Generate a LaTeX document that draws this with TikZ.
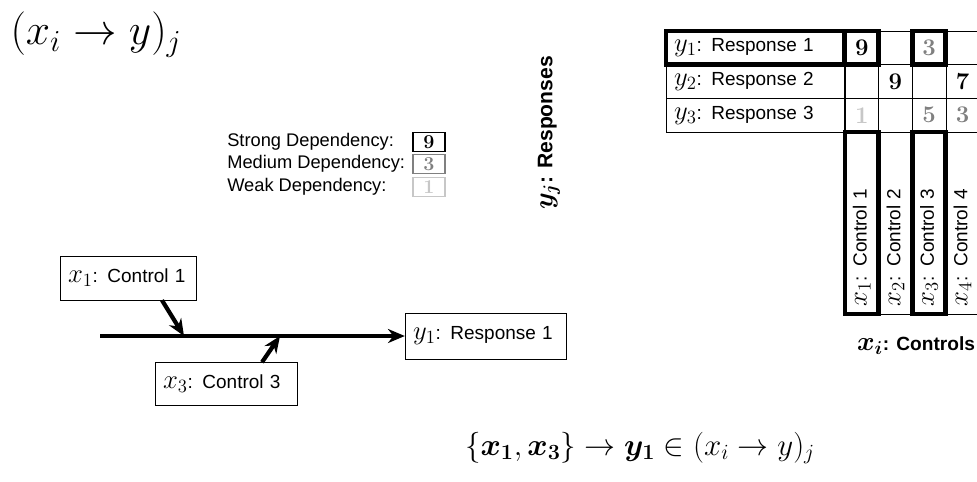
\RequirePackage{fix-cm}
\documentclass[tikz,border=0pt]{standalone}
\usepackage{amsmath}
\usepackage{fontspec}
\newfontfamily\arial{Liberation Sans}
\usepackage{tikz}
\usetikzlibrary{arrows.meta}
\definecolor{medgray}{gray}{0.5}
\definecolor{weakgray}{gray}{0.78}
\newcommand{\mv}[1]{{\fontsize{19}{20}\selectfont$#1$}}
\tikzset{>=latex}
\tikzstyle{lab} = [draw, rectangle, inner sep = 0, align = left, font = \arial\fontsize{13.5}{16}\selectfont]
\tikzstyle{rowlab} = [lab, minimum width = 4.45cm, minimum height = .842cm, text width = 4.05cm]
\tikzstyle{collab} = [lab, rotate = 90, minimum width = 4.55cm, minimum height = .84cm, text width = 4.15cm]
\tikzstyle{hl} = [line width = 3.5pt]
\tikzstyle{cell} = [draw, rectangle, minimum width = .84cm, minimum height = .842cm, inner sep = 0, font = \fontsize{17}{20}\selectfont\bfseries]
\tikzstyle{key} = [draw, rectangle, line width = .8pt, minimum width = .8cm, minimum height = .48cm, inner sep = 0, font = \fontsize{14}{16}\selectfont\bfseries]
\tikzstyle{keytext} = [draw = none, anchor = west, inner sep = 0, font = \arial\fontsize{13}{15}\selectfont]
\tikzstyle{flow} = [line width = 3pt, -{Stealth[length = 12pt, width = 10pt]}]

\begin{document}
\begin{tikzpicture}
\useasboundingbox (0, 0) rectangle (24.425, -12.025);
\node [draw = none, inner sep = 1, font = \fontsize{31}{34}\selectfont] (T) at (2.4, -.86) {$(x_i \rightarrow y)_j$};
% responses x controls
\node [rowlab, hl] (Y1) at (18.875, -1.196) {\mv{y_1}: Response 1};
\node [rowlab] (Y2) at (18.875, -2.0375) {\mv{y_2}: Response 2};
\node [rowlab] (Y3) at (18.875, -2.879) {\mv{y_3}: Response 3};
\node [cell, hl] (c11) at (21.545, -1.196) {9};
\node [cell] (c12) at (22.385, -1.196) {};
\node [cell, hl, text = medgray] (c13) at (23.225, -1.196) {3};
\node [cell] (c14) at (24.065, -1.196) {};
\node [cell] (c21) at (21.545, -2.0375) {};
\node [cell] (c22) at (22.385, -2.0375) {9};
\node [cell] (c23) at (23.225, -2.0375) {};
\node [cell] (c24) at (24.065, -2.0375) {7};
\node [cell, text = weakgray] (c31) at (21.545, -2.879) {1};
\node [cell] (c32) at (22.385, -2.879) {};
\node [cell, text = medgray] (c33) at (23.225, -2.879) {5};
\node [cell, text = medgray] (c34) at (24.065, -2.879) {3};
\node [collab] (X2) at (22.385, -5.575) {\mv{x_2}: Control 2};
\node [collab] (X4) at (24.065, -5.575) {\mv{x_4}: Control 4};
\node [collab, hl] (X1) at (21.545, -5.575) {\mv{x_1}: Control 1};
\node [collab, hl] (X3) at (23.225, -5.575) {\mv{x_3}: Control 3};
\node [draw = none, font = \arial\bfseries\fontsize{15}{18}\selectfont, rotate = 90] (YJ) at (13.725, -3.325) {\mv{\boldsymbol{y_j}}: Responses};
\node [draw = none, font = \arial\bfseries\fontsize{13.6}{16}\selectfont] (XI) at (22.9, -8.65) {\mv{\boldsymbol{x_i}}: Controls};
% legend
\node [keytext] (Ls) at (5.675, -3.55) {Strong Dependency:};
\node [keytext] (Lm) at (5.675, -4.1) {Medium Dependency:};
\node [keytext] (Lw) at (5.675, -4.675) {Weak Dependency:};
\node [key] (K9) at (10.725, -3.55) {9};
\node [key, draw = medgray, text = medgray] (K3) at (10.725, -4.1) {3};
\node [key, draw = weakgray, text = weakgray] (K1) at (10.725, -4.675) {1};
% fishbone
\node [lab, minimum width = 3.4cm, minimum height = 1.1cm, text width = 3.0cm] (C1) at (3.2, -6.95) {\mv{x_1}: Control 1};
\node [lab, minimum width = 3.55cm, minimum height = 1.075cm, text width = 3.15cm] (C3) at (5.65, -9.6) {\mv{x_3}: Control 3};
\node [lab, minimum width = 4.025cm, minimum height = 1.15cm, text width = 3.625cm] (R1) at (12.14, -8.4) {\mv{y_1}: Response 1};
\coordinate (S) at (2.5, -8.4);
\coordinate (J1) at (4.6, -8.4);
\coordinate (J3) at (7.0, -8.4);
\draw [flow] (S) -- (R1.west);
\draw [flow] ([xshift = .85cm]C1.south) -- (J1);
\draw [flow] ([xshift = .9cm]C3.north) -- (J3);
\node [draw = none, font = \fontsize{22}{26}\selectfont] (F) at (16, -11.2) {$\{\boldsymbol{x_1}, \boldsymbol{x_3}\} \rightarrow \boldsymbol{y_1} \in (x_i \rightarrow y)_j$};
\end{tikzpicture}
\end{document}
